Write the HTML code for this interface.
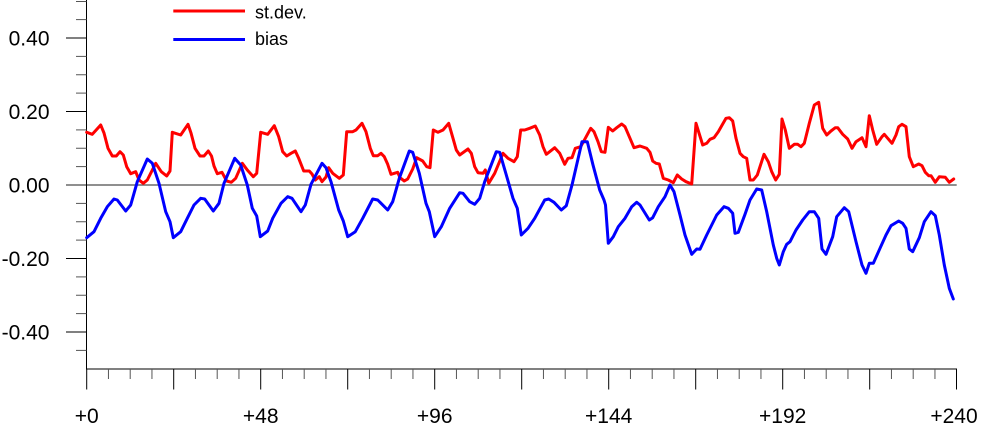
<!DOCTYPE html>
<html><head><meta charset="utf-8"><style>
html,body{margin:0;padding:0;background:#fff;}
svg{display:block;}
text{font-family:"Liberation Sans",Arial,sans-serif;fill:#000;}
</style></head><body>
<svg width="982" height="423" viewBox="0 0 982 423" xmlns="http://www.w3.org/2000/svg">
<!-- zero line -->
<line x1="66" y1="185" x2="956.7" y2="185" stroke="#6a6a6a" stroke-width="1.6"/>
<!-- axes -->
<line x1="86.5" y1="0" x2="86.5" y2="369.5" stroke="#000" stroke-width="1"/>
<line x1="86.5" y1="369" x2="957" y2="369" stroke="#000" stroke-width="1"/>
<!-- y major ticks -->
<g stroke="#000" stroke-width="1">
<line x1="66" y1="38" x2="86.5" y2="38"/>
<line x1="66" y1="111.5" x2="86.5" y2="111.5"/>
<line x1="66" y1="258.5" x2="86.5" y2="258.5"/>
<line x1="66" y1="332" x2="86.5" y2="332"/>
</g>
<!-- y minor ticks -->
<g stroke="#555" stroke-width="1">
<line x1="76" y1="1.5" x2="86.5" y2="1.5"/>
<line x1="76" y1="19.6" x2="86.5" y2="19.6"/>
<line x1="76" y1="56.4" x2="86.5" y2="56.4"/>
<line x1="76" y1="74.75" x2="86.5" y2="74.75"/>
<line x1="76" y1="93.1" x2="86.5" y2="93.1"/>
<line x1="76" y1="129.9" x2="86.5" y2="129.9"/>
<line x1="76" y1="148.25" x2="86.5" y2="148.25"/>
<line x1="76" y1="166.6" x2="86.5" y2="166.6"/>
<line x1="76" y1="203.4" x2="86.5" y2="203.4"/>
<line x1="76" y1="221.75" x2="86.5" y2="221.75"/>
<line x1="76" y1="240.1" x2="86.5" y2="240.1"/>
<line x1="76" y1="276.9" x2="86.5" y2="276.9"/>
<line x1="76" y1="295.25" x2="86.5" y2="295.25"/>
<line x1="76" y1="313.6" x2="86.5" y2="313.6"/>
<line x1="76" y1="350.4" x2="86.5" y2="350.4"/>
</g>
<!-- x major ticks -->
<g stroke="#000" stroke-width="1">
<line x1="86.7" y1="369" x2="86.7" y2="389.5"/>
<line x1="173.7" y1="369" x2="173.7" y2="389.5"/>
<line x1="260.7" y1="369" x2="260.7" y2="389.5"/>
<line x1="347.7" y1="369" x2="347.7" y2="389.5"/>
<line x1="434.7" y1="369" x2="434.7" y2="389.5"/>
<line x1="521.7" y1="369" x2="521.7" y2="389.5"/>
<line x1="608.7" y1="369" x2="608.7" y2="389.5"/>
<line x1="695.7" y1="369" x2="695.7" y2="389.5"/>
<line x1="782.7" y1="369" x2="782.7" y2="389.5"/>
<line x1="869.7" y1="369" x2="869.7" y2="389.5"/>
<line x1="956.5" y1="369" x2="956.5" y2="389.5"/>
</g>
<!-- x minor ticks -->
<g stroke="#555" stroke-width="1" id="xminor">
<line x1="108.45" y1="369" x2="108.45" y2="379"/><line x1="130.2" y1="369" x2="130.2" y2="379"/><line x1="151.95" y1="369" x2="151.95" y2="379"/>
<line x1="195.45" y1="369" x2="195.45" y2="379"/><line x1="217.2" y1="369" x2="217.2" y2="379"/><line x1="238.95" y1="369" x2="238.95" y2="379"/>
<line x1="282.45" y1="369" x2="282.45" y2="379"/><line x1="304.2" y1="369" x2="304.2" y2="379"/><line x1="325.95" y1="369" x2="325.95" y2="379"/>
<line x1="369.45" y1="369" x2="369.45" y2="379"/><line x1="391.2" y1="369" x2="391.2" y2="379"/><line x1="412.95" y1="369" x2="412.95" y2="379"/>
<line x1="456.45" y1="369" x2="456.45" y2="379"/><line x1="478.2" y1="369" x2="478.2" y2="379"/><line x1="499.95" y1="369" x2="499.95" y2="379"/>
<line x1="543.45" y1="369" x2="543.45" y2="379"/><line x1="565.2" y1="369" x2="565.2" y2="379"/><line x1="586.95" y1="369" x2="586.95" y2="379"/>
<line x1="630.45" y1="369" x2="630.45" y2="379"/><line x1="652.2" y1="369" x2="652.2" y2="379"/><line x1="673.95" y1="369" x2="673.95" y2="379"/>
<line x1="717.45" y1="369" x2="717.45" y2="379"/><line x1="739.2" y1="369" x2="739.2" y2="379"/><line x1="760.95" y1="369" x2="760.95" y2="379"/>
<line x1="804.45" y1="369" x2="804.45" y2="379"/><line x1="826.2" y1="369" x2="826.2" y2="379"/><line x1="847.95" y1="369" x2="847.95" y2="379"/>
<line x1="891.45" y1="369" x2="891.45" y2="379"/><line x1="913.2" y1="369" x2="913.2" y2="379"/><line x1="934.95" y1="369" x2="934.95" y2="379"/>
</g>
<!-- y labels -->
<g font-size="21" text-anchor="end">
<text x="49.5" y="45.5">0.40</text>
<text x="49.5" y="119">0.20</text>
<text x="49.5" y="192.5">0.00</text>
<text x="49.5" y="266">-0.20</text>
<text x="49.5" y="339.5">-0.40</text>
</g>
<!-- x labels -->
<g font-size="21" text-anchor="middle">
<text x="86.7" y="423">+0</text>
<text x="260.7" y="423">+48</text>
<text x="434.7" y="423">+96</text>
<text x="608.7" y="423">+144</text>
<text x="782.7" y="423">+192</text>
<text x="954" y="423">+240</text>
</g>
<!-- legend -->
<line x1="173.3" y1="11" x2="245" y2="11" stroke="#f00" stroke-width="3"/>
<line x1="173.3" y1="39.5" x2="245" y2="39.5" stroke="#00f" stroke-width="3"/>
<text x="255" y="18.3" font-size="18">st.dev.</text>
<text x="255" y="45" font-size="18">bias</text>
<!-- red series -->
<polyline fill="none" stroke="#f00" stroke-width="3" stroke-linejoin="round" stroke-linecap="round" points="
86.7,132.3 92.3,134.3 100.7,125 104,133 108,148.3 112.3,156 116.3,156 120,151.7 123.3,155 126.7,166.7 130.7,173.7 135.7,171.7 139,180 143.3,183.3 147.3,180 155.7,163.3 161.3,171.7 166.7,176 170,171 172.3,132.3
180.7,135 188,124.3 191,133 195,148.3 200,156 204,156 208.3,151 211.5,156 214,166 217.3,173.7 222,172.3 226.7,181 231.3,182.3 235.7,178.3 242.3,163.3 247.3,170 253.3,176.7 256.7,173.3 260.7,132.3
267.7,134.3 274.3,125.7 278.7,136.7 282.7,151.7 286.7,156 291,153.3 295.3,151 298.7,158.3 303.7,171 309.3,171 312,174 315.3,180 319.3,176.7 322,181.7 326,177 328.7,167.7 332.7,173.3 339.3,178.3 343.3,175 346.7,131.7
352.7,131.7 356,130 362,123.3 366,131.7 370.3,148.3 373.3,155.7 377.7,155.7 381,153.3 384.3,156.7 387.7,164.3 391,174.3 397.7,172.3 400,177.7 404.3,181 407.7,179 412.7,169 416.7,157.7 422.7,161 426.7,166.7 430,167.7 433.3,130
438,132.3 443,130 448.7,123.3 453,138.3 456.3,150 459.7,155 468,149 471.3,153.3 474.7,166.7 478,172.7 483,173.3 485.3,170 488.7,183.3 494.7,173.3 503,153.3 508,158.3 514,161.7 517.3,156.7 520.7,130
524.7,130 529.7,128.3 535.3,126 539.7,135 543,146.7 546.3,154.3 549.7,151.7 554.7,147.7 559.7,153.3 564.7,164.3 568,158.3 572,157.7 575.3,148.3 580.7,146.7 585.3,138.3 590.7,128.3 594,131.7 598,141.7 601.3,151.7 605,152.3
608.3,127.3 612.7,131 616.7,127.7 621.7,124 625,126.7 630,138.3 634,147.7 640,146 646.7,148.3 650,152.3 652.7,161 656,163.3 659.3,164 663.3,178.3 668.3,180 673.3,182.7 677.3,175 681.7,179 686,181.7 691.7,184
696,123.3 702.7,145 706.7,143.3 710,139.3 714,137.7 718.3,131.7 726,118.3 729.3,117.7 732.7,121 736,138.3 740,153.3 743.3,156.7 746.7,158.3 750,180 753.3,180 757.3,175 764,154.3 768.3,161.7 771.7,171.7 775.7,180 779.3,174.3
782,119 785.3,130 789.3,148.3 794.3,144.3 797.7,144.3 801,146.7 804.3,143.3 809.3,123.3 814.3,105 818.7,102.3 822.7,128.3 826.7,135 831,131 835.3,127.7 837.7,127.7 842.7,134.3 847.7,139 852,148.3 856,141.7 862,137.7 866,146.7
869.3,115.7 872.7,130 876.7,144.3 882,136.7 884.3,134.3 887.7,138.3 892,143.3 896,135 898.7,126.7 902,124.3 906,126.7 909.3,156.7 913.3,166.7 918.7,164 922,165.7 925.3,172.3 928.7,175.7 931,175.7 935.3,182.3 939.3,176.7 945.3,177.3 949.3,182.3 953.7,179"/>
<!-- blue series -->
<polyline fill="none" stroke="#00f" stroke-width="3" stroke-linejoin="round" stroke-linecap="round" points="
86.7,237.7 94,231.7 100.7,218.3 107.3,206.7 114,199 117.3,200 125.7,211 130.7,205 137.3,181.7 147.3,159 152.3,163.3 159,183.3 165.7,211.7 170,221.7 173.3,237.7
180.7,231.7 187.3,218.3 194,205 200.7,198.3 204.7,199 213.3,211 219,203.3 224,183.3 234.7,158.3 240.7,165 247.3,185 252.3,208.3 256.7,216 260.3,236.7
267.7,231 272.7,218.3 281,203.3 287.7,196.7 292,198.3 301,211.7 305.3,205 311,184.3 322,163.3 326,167.7 331,181.7 338.7,210 343.3,221 347.7,236.7
355.3,231.7 362.7,218.3 372.7,199 377.7,200 387.7,210 392.7,201.7 399.3,178.3 409.3,151 412.7,152.3 419.3,173.3 426,203.3 429.3,211.7 434.7,236.7
441.3,226.7 449.7,208.3 459.7,192.7 463,193.3 469.7,201.7 474.7,204.3 479.7,198.3 484.7,181.7 496.3,151.7 499.7,152.3 506.3,175 513,198.3 517.3,208.3 521.3,235
528,228.3 534.7,218.3 544.7,200 548.7,199 554,202.3 561.3,210 566.3,205.7 572,185 582,141.7 587.3,141.7 593,165 599.7,190 604,200 605.5,205 608.3,243.3
613.3,236.7 618.3,226.7 625,218.3 631.7,206.7 636.7,202.3 640,205 649.3,220 652.7,217.7 658.3,206.7 665,196.7 670,185 674,191.7 680,215 685,235 691.7,254.3
696.7,249 700,249.3 706.7,235 716.7,215 724,206.7 728.3,208.3 732.7,213.3 735,233.3 738.3,232.3 745,214.3 750,200 756.7,189 761.7,190 766.7,211.7 773.3,245 776.7,258.3 779.3,265
783.3,251.7 786.7,244.3 790,241.7 796,230 802.7,220 809.3,211.7 814.3,211.7 818.7,218.3 822,249 826,254.3 832.7,236.7 836.7,216.7 844.3,207.7 848.7,211.7 856,241.7 862,265 866,273.3
869.3,263.3 873.3,263.3 880,248.3 886,235 891,225.7 898.7,221 902.7,223.3 906,228.3 909.3,249 912.7,251.7 919.3,237.7 924.3,221.7 931,211.7 935.3,215.7 939.3,235 944.3,265 949.3,288.3 953.3,299"/>
</svg>
</body></html>
